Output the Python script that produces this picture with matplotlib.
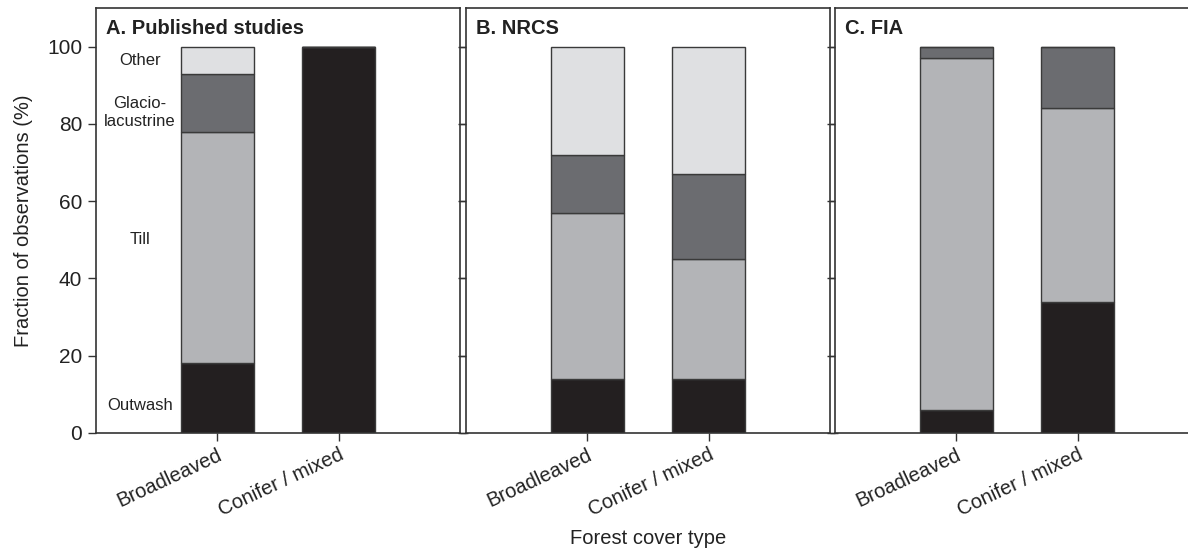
import matplotlib
matplotlib.use("Agg")
import matplotlib.pyplot as plt
import numpy as np

plt.rcParams['font.family'] = ['Liberation Sans', 'DejaVu Sans']

categories = ["Broadleaved", "Conifer / mixed"]
panels = ["A. Published studies", "B. NRCS", "C. FIA"]
layers = ["Outwash", "Till", "Glacio-\nlacustrine", "Other"]
colors = ["#231f20", "#b3b4b7", "#6b6c70", "#dfe0e2"]

# values per panel: [layer][category]
outwash = [[18, 100], [14, 14], [6, 34]]
till = [[60, 0], [43, 31], [91, 50]]
glacio = [[15, 0], [15, 22], [3, 16]]
other = [[7, 0], [28, 33], [0, 0]]

label_y = [7, 50, 83, 96.5]

W, H = 1188, 552
fig = plt.figure(figsize=(W / 100, H / 100), dpi=100)

lefts = [96, 466, 835]
pw = 364
top, bottom = 8, 433
axes = []
for i, name in enumerate(panels):
    ax = fig.add_axes([lefts[i] / W, 1 - bottom / H, pw / W, (bottom - top) / H])
    axes.append(ax)
    x = np.arange(1, len(categories) + 1)
    base = np.zeros(len(categories))
    for vals, col in zip([outwash[i], till[i], glacio[i], other[i]], colors):
        v = np.array(vals, dtype=float)
        ax.bar(x, v, bottom=base, width=0.6, color=col, edgecolor="#3a3a3a", linewidth=1.0)
        base += v
    ax.set_xlim(0, 3)
    ax.set_ylim(0, 110)
    ax.set_yticks([0, 20, 40, 60, 80, 100])
    ax.set_xticks(x)
    ax.set_xticklabels(categories, rotation=25, ha="right", rotation_mode="anchor", fontsize=14.5, color="#222222")
    ax.tick_params(axis="y", which="both", left=True, right=True, direction="out", length=6, width=1.0, color="#333333",
                   labelsize=15, labelcolor="#222222", pad=4)
    ax.tick_params(axis="x", direction="out", length=6, width=1.0, color="#333333", pad=3)
    if i > 0:
        ax.tick_params(axis="y", labelleft=False)
    for s in ax.spines.values():
        s.set_linewidth(1.2)
        s.set_color("#333333")
    ax.text(0.08, 104.6, name, fontsize=14.5, fontweight="bold", va="center", ha="left", color="#222222")

axes[0].set_ylabel("Fraction of observations (%)", fontsize=14.5, color="#222222", labelpad=10)
for lab, y in zip(layers, label_y):
    axes[0].text(0.36, y, lab, ha="center", va="center", fontsize=12, color="#222222", linespacing=1.3)

fig.text(648 / W, 1 - 538 / H, "Forest cover type", ha="center", va="center", fontsize=14.5, color="#222222")

fig.savefig("out.png", dpi=100)
